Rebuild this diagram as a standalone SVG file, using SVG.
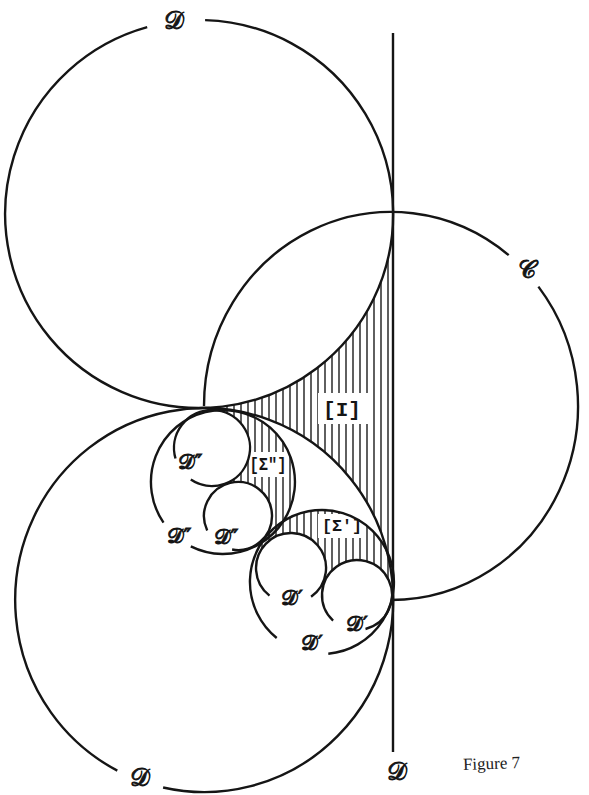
<svg xmlns="http://www.w3.org/2000/svg" width="589" height="795" viewBox="0 0 589 795">
<style>
.c{fill:none;stroke:#151515;stroke-width:2.4}
.w{fill:#fff;stroke:none}
.lbl{font-family:"DejaVu Serif","DejaVu Sans","Noto Sans",serif;font-size:25px;fill:#151515;stroke:#151515;stroke-width:0.9;text-anchor:middle}
.sm{font-size:21px}
.br{font-family:"Liberation Mono",monospace;font-weight:bold;fill:#151515;text-anchor:middle}
.fig{font-family:"Liberation Serif",serif;font-size:17px;fill:#222}
</style>
<defs>
<pattern id="hatch" patternUnits="userSpaceOnUse" width="7" height="10">
<line x1="3" y1="0" x2="3" y2="10" stroke="#1a1a1a" stroke-width="1.4"/>
</pattern>
<clipPath id="clipS2"><polygon points="212,448 200,412 190,385 330,385 330,575 262,575 252,548 238,516"/></clipPath>
<clipPath id="clipS1"><polygon points="291,568 256,552 235,543 235,500 410,500 410,615 390,607 357,595"/></clipPath>
</defs>
<rect width="589" height="795" fill="#fff"/>
<g id="shading">
<path id="regionI" d="M202,408 A194,194 0 0 0 393,214 L393,600 A189,192 0 0 0 202,408 Z" fill="url(#hatch)"/>
<g clip-path="url(#clipS2)"><circle cx="223" cy="482" r="72" fill="url(#hatch)"/></g>
<g clip-path="url(#clipS1)"><circle cx="322" cy="582" r="72" fill="url(#hatch)"/></g>
<circle class="w" cx="212" cy="448" r="38"/>
<circle class="w" cx="238" cy="516" r="34"/>
<circle class="w" cx="291" cy="568" r="35"/>
<circle class="w" cx="357" cy="595" r="35"/>
<rect class="w" x="318" y="393" width="50" height="31"/>
<rect class="w" x="249" y="452" width="40" height="25"/>
<rect class="w" x="318" y="514" width="46" height="24"/>
</g>
<g id="line-D">
<line class="c" x1="393" y1="33" x2="393" y2="752" stroke-width="2.6"/>
<text class="lbl" x="397" y="780">𝒟</text>
</g>
<g id="circle-D-top">
<path class="c" d="M205.1,20.1 A194,194 0 1 1 147.2,27.1"/>
<text class="lbl" x="174" y="29">𝒟</text>
</g>
<g id="circle-C">
<path class="c" d="M204,406 A187,194 0 0 1 508.7,255.2 M538.4,286.6 A187,194 0 0 1 391,600"/>
<text class="lbl" x="527" y="278">𝒞</text>
</g>
<g id="circle-D-bottom">
<path class="c" d="M117.3,770.6 A189,192 0 1 1 163.1,787.5"/>
<text class="lbl" x="140" y="786">𝒟</text>
</g>
<g id="circle-D2-outer">
<path class="c" d="M163.5,522.6 A72,72 0 1 1 190.8,546.4"/>
<text class="lbl sm" x="179" y="543">𝒟″</text>
</g>
<g id="circle-D2-upper">
<path class="c" d="M175.5,458.5 A38,38 0 1 1 190.8,479.5"/>
<text class="lbl sm" x="190" y="469">𝒟″</text>
</g>
<g id="circle-D2-lower">
<path class="c" d="M207.2,530.4 A34,34 0 1 1 232.1,549.5"/>
<text class="lbl sm" x="226" y="544">𝒟″</text>
</g>
<g id="circle-D1-outer">
<path class="c" d="M276.7,638 A72,72 0 1 1 328.3,653.7"/>
<text class="lbl sm" x="312" y="650">𝒟′</text>
</g>
<g id="circle-D1-left">
<path class="c" d="M269.5,595.6 A35,35 0 1 1 311.1,596.7"/>
<text class="lbl sm" x="292" y="605">𝒟′</text>
</g>
<g id="circle-D1-right">
<path class="c" d="M333.1,620.6 A35,35 0 1 1 365.5,629"/>
<text class="lbl sm" x="357" y="631">𝒟′</text>
</g>
<g id="labels">
<text class="br" x="342" y="416" font-size="21">[I]</text>
<text class="br" x="268" y="470" font-size="18" textLength="37" lengthAdjust="spacingAndGlyphs">[Σ″]</text>
<text class="br" x="342" y="531" font-size="17" textLength="40" lengthAdjust="spacingAndGlyphs">[Σ′]</text>
<text class="fig" x="463" y="769" transform="rotate(-2 492 765)">Figure 7</text>
</g>
</svg>
